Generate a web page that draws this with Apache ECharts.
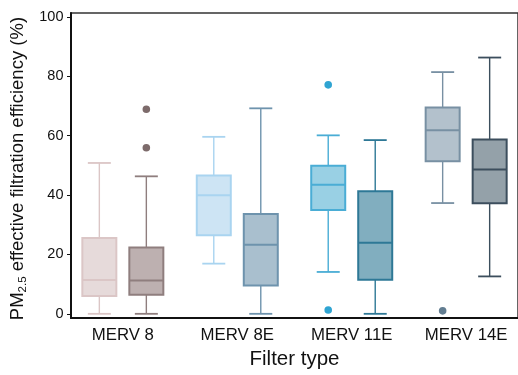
<!DOCTYPE html>
<html>
<head>
<meta charset="utf-8">
<script src="https://cdn.jsdelivr.net/npm/echarts@6/dist/echarts.min.js"></script>
<style>
html,body{margin:0;padding:0;background:#fff;}
#chart{width:518px;height:375px;}
</style>
</head>
<body>
<div id="chart"></div>
<script>
// ---- data ----
const categories = ['MERV 8', 'MERV 8E', 'MERV 11E', 'MERV 14E'];
const yTicks = [0, 20, 40, 60, 80, 100];
// [min, Q1, median, Q3, max]
const leftStats = [
  [0, 6.0, 11.4, 25.5, 50.8],
  [16.9, 26.5, 39.9, 46.6, 59.6],
  [14.1, 35.0, 43.5, 49.9, 60.1],
  [37.3, 51.4, 61.8, 69.5, 81.4]
];
const rightStats = [
  [0, 6.4, 11.2, 22.3, 46.3],
  [0, 9.5, 23.3, 33.6, 69.2],
  [0, 11.5, 23.9, 41.3, 58.5],
  [12.6, 37.2, 48.6, 58.7, 86.3]
];
const leftOutliers = [[], [], [77.1, 1.3], [1.0]];
const rightOutliers = [[68.9, 55.9], [], [], []];

// ---- styles ----
const leftFill   = ['#e6dada', '#cde4f4', '#99d0e4', '#b3c1cc'];
const leftStroke = ['#dbc6c6', '#a9d4f0', '#4aadd5', '#7890a3'];
const rightFill   = ['#bdb0b0', '#a9bfce', '#81aebf', '#94a1a9'];
const rightStroke = ['#8f7e7e', '#6e93ad', '#2e7896', '#3c4e5d'];
const leftDot  = ['#7d6b6b', '#6e93ad', '#2fa4d2', '#627d91'];
const rightDot = ['#7d6b6b', '#6e93ad', '#2e7896', '#3c4e5d'];
const OFFSET = 23.5, BOX_W = 34, CAP_W = 23;
const FONT = 'Liberation Sans, Arial, sans-serif';

function boxData(stats) {
  return stats.map((s, i) => [i + 1].concat(s));
}
function outlierData(list) {
  const out = [];
  list.forEach((vals, i) => vals.forEach(v => out.push([i + 1, v])));
  return out;
}
function boxRender(offset, fills, strokes) {
  return function (params, api) {
    const i = params.dataIndex;
    const x = api.value(0);
    const lo = api.coord([x, api.value(1)]);
    const q1 = api.coord([x, api.value(2)]);
    const md = api.coord([x, api.value(3)]);
    const q3 = api.coord([x, api.value(4)]);
    const hi = api.coord([x, api.value(5)]);
    const cx = lo[0] + offset;
    const stroke = strokes[i], fill = fills[i];
    const ls = { stroke: stroke, lineWidth: 1.4, fill: null };
    return {
      type: 'group',
      children: [
        { type: 'line', shape: { x1: cx, y1: hi[1], x2: cx, y2: q3[1] }, style: ls },
        { type: 'line', shape: { x1: cx, y1: q1[1], x2: cx, y2: lo[1] }, style: ls },
        { type: 'line', shape: { x1: cx - CAP_W / 2, y1: hi[1], x2: cx + CAP_W / 2, y2: hi[1] }, style: { stroke: stroke, lineWidth: 1.8 } },
        { type: 'line', shape: { x1: cx - CAP_W / 2, y1: lo[1], x2: cx + CAP_W / 2, y2: lo[1] }, style: { stroke: stroke, lineWidth: 1.8 } },
        { type: 'rect', shape: { x: cx - BOX_W / 2, y: q3[1], width: BOX_W, height: q1[1] - q3[1] }, style: { fill: fill, stroke: stroke, lineWidth: 2 } },
        { type: 'line', shape: { x1: cx - BOX_W / 2, y1: md[1], x2: cx + BOX_W / 2, y2: md[1] }, style: { stroke: stroke, lineWidth: 2 } }
      ]
    };
  };
}
function dotRender(offset, colors) {
  return function (params, api) {
    const p = api.coord([api.value(0), api.value(1)]);
    const c = colors[api.value(0) - 1];
    return { type: 'circle', shape: { cx: p[0] + offset, cy: p[1], r: 3.8 }, style: { fill: c } };
  };
}

const chart = echarts.init(document.getElementById('chart'), null, { renderer: 'canvas' });
chart.setOption({
  animation: false,
  backgroundColor: '#fff',
  grid: { left: 71, right: -10, top: 13, bottom: 49.3, show: true, borderColor: '#333', borderWidth: 1.5, containLabel: false },
  xAxis: {
    type: 'value',
    min: 0.547, max: 4.453,
    name: 'Filter type',
    nameLocation: 'middle',
    nameGap: 29,
    nameTextStyle: { fontFamily: FONT, fontSize: 20.5, color: '#111' },
    axisLine: { show: true, onZero: false, lineStyle: { color: '#111', width: 2 } },
    axisTick: { show: false },
    splitLine: { show: false },
    axisLabel: {
      customValues: [1, 2, 3, 4],
      formatter: v => categories[Math.round(v) - 1],
      fontFamily: FONT, fontSize: 16.8, color: '#111', margin: 9
    }
  },
  yAxis: {
    type: 'value',
    min: -1.44, max: 101.3,
    name: '{a|PM}{b|2.5}{a| effective filtration efficiency (%)}',
    nameLocation: 'middle',
    nameGap: 26,
    nameRotate: 90,
    nameTextStyle: {
      fontFamily: FONT, color: '#111', padding: [0, 6, 0, 0],
      rich: {
        a: { fontFamily: FONT, fontSize: 18.5, color: '#111', lineHeight: 22, verticalAlign: 'bottom' },
        b: { fontFamily: FONT, fontSize: 11.5, color: '#111', lineHeight: 22, verticalAlign: 'bottom', padding: [0, 0, -1, 0] }
      }
    },
    axisLine: { show: true, onZero: false, lineStyle: { color: '#111', width: 2 } },
    axisTick: { show: true, customValues: yTicks, length: 4, lineStyle: { color: '#111', width: 1 } },
    splitLine: { show: false },
    axisLabel: { customValues: yTicks, fontFamily: FONT, fontSize: 14.5, color: '#111', margin: 7.5 }
  },
  series: [
    { type: 'custom', name: 'left', data: boxData(leftStats), renderItem: boxRender(-OFFSET, leftFill, leftStroke), encode: { x: 0, y: [1, 2, 3, 4, 5] } },
    { type: 'custom', name: 'right', data: boxData(rightStats), renderItem: boxRender(OFFSET, rightFill, rightStroke), encode: { x: 0, y: [1, 2, 3, 4, 5] } },
    { type: 'custom', name: 'leftOut', data: outlierData(leftOutliers), renderItem: dotRender(-OFFSET, leftDot), encode: { x: 0, y: 1 } },
    { type: 'custom', name: 'rightOut', data: outlierData(rightOutliers), renderItem: dotRender(OFFSET, rightDot), encode: { x: 0, y: 1 } }
  ]
});
</script>
</body>
</html>
